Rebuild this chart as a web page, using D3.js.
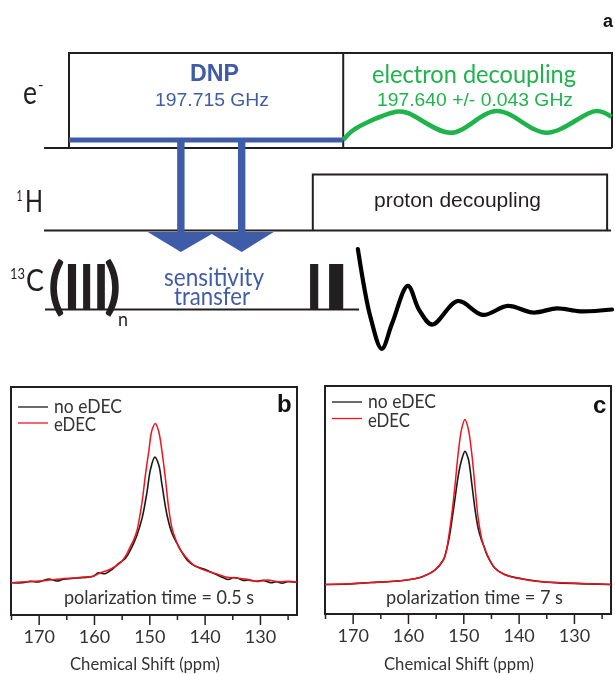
<!DOCTYPE html>
<html><head><meta charset="utf-8">
<script src="https://cdnjs.cloudflare.com/ajax/libs/d3/7.8.5/d3.min.js"></script>
<style>html,body{margin:0;padding:0;background:#fff}svg{display:block}</style>
</head><body><div id="chart"></div>
<script>
// ---------- spectra data (ppm, intensity relative to eDEC peak) ----------
const bNoDecPpm=[175,172.9,171.5,170,168.2,166.7,165.5,163.1,160.1,159.2,158,156.7,155.5,154.3,153.4,152.7,152.2,151.3,150.4,149.8,149,148.3,147.7,146.8,145.9,145,144.2,143,141.8,140,138.5,137.7,136.7,135.7,134.8,134,133,132,130.5,129.5,128,127,126,125,123.3];
const bNoDecI=[-0.003,-0.003,0.006,0.002,0.021,0.008,0.019,0.027,0.038,0.06,0.054,0.082,0.12,0.151,0.204,0.256,0.3,0.404,0.571,0.708,0.788,0.74,0.613,0.424,0.309,0.246,0.195,0.135,0.104,0.082,0.058,0.046,0.03,0.018,0.03,0.026,0.012,0.014,0.006,0.012,-0.003,0.003,-0.006,0.003,0];
const bDecPpm=[175,172.1,169.1,166.1,163.1,160.1,158.85,157.05,155.2,154,153.43,152.8,152.2,151.3,150.7,150.1,149.5,148.9,148.3,147.7,147.1,146.5,145.9,145.3,144.4,143.2,142,140.2,137.8,136,134.2,132.35,130.55,128.7,126.6,124.8,123.3];
const bDecI=[-0.003,0.004,0.01,0.021,0.029,0.04,0.06,0.082,0.124,0.183,0.225,0.27,0.33,0.508,0.677,0.823,0.96,1,0.95,0.823,0.657,0.468,0.342,0.275,0.204,0.151,0.109,0.078,0.052,0.032,0.027,0.019,0.006,0.014,0.004,0.006,0];
const cNoDecPpm=[175,170.8,166.6,163.5,160.5,157.5,155.1,153.6,153.1,152.6,152.1,151.5,150.9,150.4,149.7,149.1,148.5,147.9,147.3,146.7,146.2,145.8,144.3,142.5,139.45,136.45,132.8,127.4,123.3];
const cNoDecI=[0,0.003,0.012,0.017,0.026,0.046,0.088,0.15,0.2,0.275,0.379,0.52,0.661,0.742,0.807,0.762,0.621,0.46,0.339,0.268,0.225,0.186,0.1,0.06,0.035,0.02,0.01,0.004,0];
const cDecPpm=[175,170.8,166.6,163.5,160.5,157.5,155.1,153.6,153.1,152.7,152.1,151.5,150.9,150.3,149.7,149.1,148.5,147.9,147.3,146.6,146.2,145.8,144.3,142.5,139.45,136.45,132.8,127.4,123.3];
const cDecI=[0,0.004,0.012,0.018,0.026,0.046,0.089,0.149,0.2,0.275,0.42,0.6,0.802,0.943,1,0.943,0.802,0.6,0.399,0.268,0.225,0.19,0.099,0.059,0.033,0.018,0.012,0.004,0];
const majorTicks=[170,160,150,140,130];
const minorTicks=[175,165,155,145,135,125];
// ---------- pulse sequence data (t: percent of sequence, a: relative amplitude) ----------
const decouplingT=[50.5,52.2,55.2,60.6,62.4,70.3,78.8,88,97.1,99.9];
const decouplingA=[0,0.32,0.63,0.98,0.93,0.25,1,0.25,1,0.8];
const fidT=[53.2,55.5,57.6,59.5,62.4,64.5,66.9,71.6,76.2,80.8,85.5,89.9,94.1,100];
const fidA=[1,-0.12,-0.65,-0.23,0.39,-0.01,-0.25,0.14,-0.09,0.06,-0.05,0.02,-0.03,0];
const pulseStart=[-0.2,2.6,5.2,44.4,47.9];
const pulseEnd=[1.3,3.9,6.6,45.9,50.5];
const transferT=[20.6,31.8];
const arrowT=[14.5,20.6,26.3,31.8,37.7];

const BLUE="#3f5ca8",GREEN="#1eb34b",INK="#231f20",SANS="'Liberation Sans',Arial,sans-serif",HUM="Lato,'Open Sans',sans-serif";
const svg=d3.select("#chart").append("svg").attr("width",615).attr("height",674).style("filter","blur(0.35px)");

function txt(x,y,s,size,opt={}){
  const t=svg.append("text").attr("x",x).attr("y",y).text(s)
   .attr("font-size",size).attr("font-family",opt.font||HUM).attr("fill",opt.fill||INK)
   .attr("font-weight",opt.weight||"normal").attr("text-anchor","start");
  if(opt.len) t.attr("textLength",opt.len).attr("lengthAdjust","spacingAndGlyphs");
  return t;
}
// ---------- panel a ----------
const sx=d3.scaleLinear().domain([0,100]).range([69,612]);
const chE=148,chH=230.5,chC=309.5;
const line=(x1,y1,x2,y2,c,w)=>svg.append("line").attr("x1",x1).attr("y1",y1).attr("x2",x2).attr("y2",y2).attr("stroke",c).attr("stroke-width",w);
line(44,chE,612,chE,INK,2);
line(44,chH,611,chH,INK,2);
line(45,chC,359,chC,INK,2);
const poly=(pts,c,w)=>svg.append("path").attr("d",d3.line()(pts)).attr("fill","none").attr("stroke",c).attr("stroke-width",w).attr("stroke-linejoin","miter");
poly([[sx(0),chE],[sx(0),53],[sx(100),53],[sx(100),chE]],INK,2);
line(sx(50.5),53,sx(50.5),chE,INK,2);
poly([[sx(44.9),chH],[sx(44.9),174.5],[sx(99.1),174.5],[sx(99.1),chH]],INK,2);
// blue DNP
line(sx(0),140,sx(50.5),140,BLUE,5);
svg.selectAll(".tr").data(transferT).join("rect").attr("class","tr").attr("x",d=>sx(d)-3.7).attr("width",7.4).attr("y",140).attr("height",96).attr("fill",BLUE);
const arrowY=[232,252,234,252,232];
svg.append("path").attr("d",d3.line().x(d=>sx(d)).y((d,i)=>arrowY[i])(arrowT)+"Z").attr("fill",BLUE);
// green wave
const yGreen=d3.scaleLinear().domain([0,1]).range([140,111]);
svg.append("path").attr("d",d3.line().x(d=>sx(d)).y((d,i)=>yGreen(decouplingA[i])).curve(d3.curveCatmullRom.alpha(0.5))(decouplingT)).attr("fill","none").attr("stroke",GREEN).attr("stroke-width",4.5);
// pulses
svg.selectAll(".p").data(pulseStart).join("rect").attr("class","p").attr("x",d=>sx(d)).attr("width",(d,i)=>sx(pulseEnd[i])-sx(d)).attr("y",264).attr("height",chC-264).attr("fill",INK);
// fid
const yFid=d3.scaleLinear().domain([0,1]).range([309.5,249]);
svg.append("path").attr("d",d3.line().x(d=>sx(d)).y((d,i)=>yFid(fidA[i])).curve(d3.curveCatmullRom.alpha(0.5))(fidT)).attr("fill","none").attr("stroke","#000").attr("stroke-width",4.2).attr("stroke-linecap","round");
// labels
txt(603,27,"a",18,{font:SANS,weight:"bold",fill:"#111"});
txt(23,103.5,"e",33,{len:14});
txt(38,90,"-",15);
txt(190,81,"DNP",24,{font:SANS,weight:"bold",fill:BLUE,len:49});
txt(155,106,"197.715 GHz",19,{font:SANS,fill:BLUE,len:114});
txt(372,83,"electron decoupling",25,{fill:GREEN,len:204});
txt(377,106,"197.640 +/- 0.043 GHz",19,{font:SANS,fill:GREEN,len:196});
txt(16.5,200.5,"1",16,{len:6});
txt(25,211.5,"H",30,{len:18});
txt(374,207,"proton decoupling",20.5,{font:SANS,fill:INK,len:167});
txt(10,279,"13",16,{len:15});
txt(26,290.5,"C",30,{len:18});
txt(48,307,"(",62,{weight:"bold"});
txt(104,307,")",62,{weight:"bold"});
txt(118,326,"n",20,{len:10});
txt(164,286,"sensitivity",25,{fill:BLUE,len:100});
txt(174,305,"transfer",25,{fill:BLUE,len:76});

// ---------- spectra panels ----------
function panel(o){
  const x=d3.scaleLinear().domain([175,123.3]).range([o.left,o.left+286]);
  const y=d3.scaleLinear().domain([0,1]).range([o.base,o.peak]);
  const g=svg.append("g");
  g.append("rect").attr("x",o.left).attr("y",o.top).attr("width",286).attr("height",o.bottom-o.top).attr("fill","none").attr("stroke",INK).attr("stroke-width",2);
  const ax=g.append("g").attr("transform",`translate(0,${o.bottom})`)
    .call(d3.axisBottom(x).tickValues(majorTicks).tickSize(10).tickPadding(5).tickFormat(d3.format("d")));
  ax.select(".domain").remove();
  ax.selectAll("line").attr("stroke",INK).attr("stroke-width",1.5);
  ax.selectAll("text").attr("font-family",HUM).attr("font-size",18).attr("fill","#333");
  const ax2=g.append("g").attr("transform",`translate(0,${o.bottom})`)
    .call(d3.axisBottom(x).tickValues(minorTicks).tickSize(5).tickFormat(""));
  ax2.select(".domain").remove();
  ax2.selectAll("line").attr("stroke",INK).attr("stroke-width",1.5);
  const ln=d3.line().x(d=>x(d[0])).y(d=>y(d[1])).curve(d3.curveCatmullRom.alpha(0.5));
  g.append("path").attr("d",ln(d3.zip(o.blackP,o.blackI))).attr("fill","none").attr("stroke","#1a1a1a").attr("stroke-width",1.6);
  g.append("path").attr("d",ln(d3.zip(o.redP,o.redI))).attr("fill","none").attr("stroke","#f0141e").attr("stroke-width",1.5);
  // legend
  line(o.left+7,o.leg1,o.left+37,o.leg1,"#1a1a1a",1.3);
  line(o.left+7,o.leg2,o.left+37,o.leg2,"#f0141e",1.3);
  txt(o.left+43,o.leg1+6,"no eDEC",19,{fill:"#333",len:68});
  txt(o.left+43,o.leg2+8,"eDEC",19,{fill:"#333",len:42});
  txt(o.capX,604,o.cap,19,{fill:"#333",len:o.capLen});
  txt(o.left+59,670.2,"Chemical Shift (ppm)",17,{fill:"#333",len:150});
  txt(o.tagX,o.tagY,o.tag,24,{font:SANS,weight:"bold",fill:"#111"});
}
panel({left:11,top:387,bottom:615,base:582.3,peak:423.5,leg1:407,leg2:423,blackP:bNoDecPpm,blackI:bNoDecI,redP:bDecPpm,redI:bDecI,
  cap:"polarization time = 0.5 s",capX:64,capLen:190,tag:"b",tagX:277,tagY:412});
panel({left:325,top:386,bottom:614,base:584.5,peak:419.5,leg1:402,leg2:418.5,blackP:cNoDecPpm,blackI:cNoDecI,redP:cDecPpm,redI:cDecI,
  cap:"polarization time = 7 s",capX:386,capLen:177,tag:"c",tagX:593,tagY:413});
</script></body></html>
